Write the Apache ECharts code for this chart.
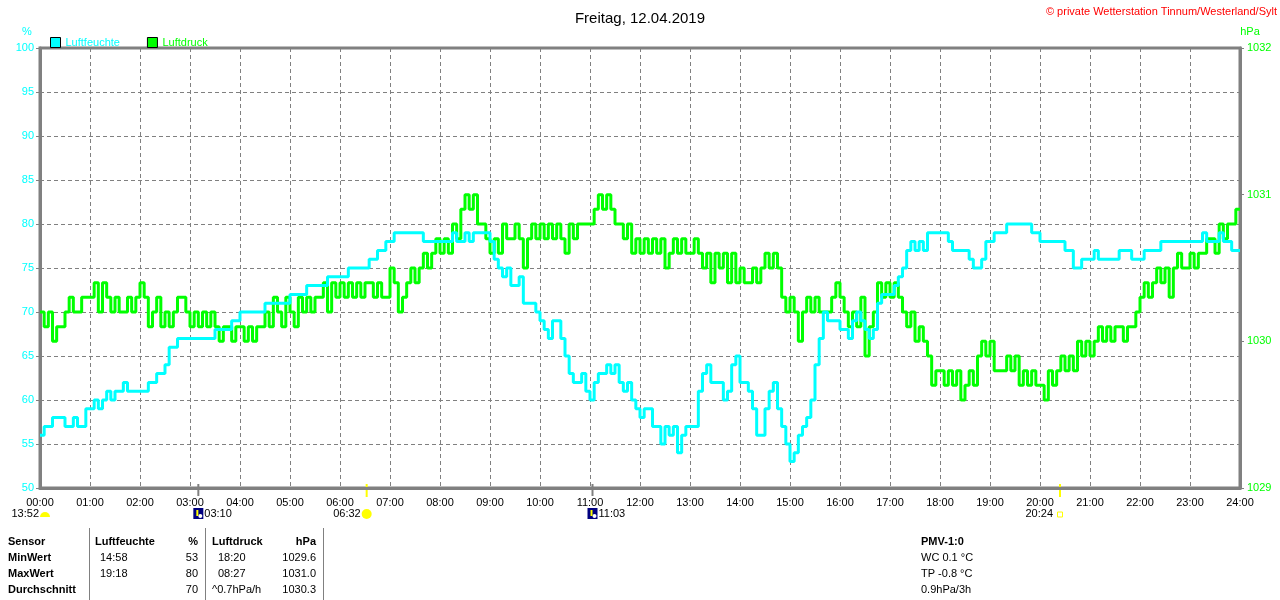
<!DOCTYPE html>
<html>
<head>
<meta charset="utf-8">
<title>Freitag, 12.04.2019</title>
<script src="https://cdn.jsdelivr.net/npm/echarts@6/dist/echarts.min.js"></script>
<style>
  html, body {margin: 0; padding: 0; background: #fff;}
  #main {width: 1280px; height: 600px;}
</style>
</head>
<body>
<div id="main"></div>
<script>
// Messwerte alle 5 Minuten, 00:00 .. 24:00
var sampleStep = 5;
var hourLabels = ['00:00','01:00','02:00','03:00','04:00','05:00','06:00','07:00','08:00','09:00','10:00','11:00','12:00',
  '13:00','14:00','15:00','16:00','17:00','18:00','19:00','20:00','21:00','22:00','23:00','24:00'];

var humidity = [
  56,57,57,58,58,58,57,57,58,57,57,59,
  59,60,59,60,61,60,61,61,62,61,61,61,
  61,61,62,62,63,63,64,66,66,67,67,67,
  67,67,67,67,67,67,68,68,68,68,69,69,
  70,70,70,70,70,70,71,71,71,71,71,71,
  72,72,72,72,73,73,73,73,73,74,74,74,
  74,74,75,75,75,75,75,76,76,77,77,78,
  78,79,79,79,79,79,79,79,78,78,78,78,
  78,78,78,79,78,78,79,78,79,79,79,79,
  78,76,75,74,75,73,73,74,71,71,71,70,
  69,68,67,69,69,67,65,63,62,62,63,61,
  60,62,63,63,64,63,64,62,61,62,60,59,
  58,59,59,57,57,55,57,56,57,54,56,57,
  57,57,61,63,64,62,62,62,60,61,64,65,
  62,62,61,59,56,56,59,61,62,59,57,55,
  53,54,56,57,58,60,64,67,70,69,69,69,
  68,68,67,69,70,69,68,67,68,71,72,72,
  72,73,74,75,77,78,77,78,77,79,79,79,
  79,79,78,77,77,77,77,76,75,75,76,78,
  78,79,79,79,80,80,80,80,80,80,79,79,
  78,78,78,78,78,78,77,77,75,75,76,76,
  76,77,76,76,76,76,76,77,77,77,76,76,
  76,77,77,77,77,78,78,78,78,78,78,78,
  78,78,78,79,78,78,78,79,78,78,77,77,
  77
];

var pressure = [
  1030.2,1030.1,1030.2,1030.0,1030.1,1030.1,1030.2,1030.3,1030.2,1030.2,1030.3,1030.3,
  1030.3,1030.4,1030.2,1030.4,1030.3,1030.2,1030.3,1030.2,1030.2,1030.3,1030.2,1030.3,
  1030.4,1030.3,1030.1,1030.2,1030.3,1030.1,1030.2,1030.1,1030.2,1030.3,1030.3,1030.2,
  1030.1,1030.2,1030.1,1030.2,1030.1,1030.2,1030.1,1030.0,1030.1,1030.1,1030.0,1030.1,
  1030.1,1030.0,1030.1,1030.0,1030.1,1030.1,1030.2,1030.1,1030.3,1030.2,1030.1,1030.3,
  1030.2,1030.1,1030.3,1030.2,1030.3,1030.2,1030.3,1030.3,1030.4,1030.2,1030.4,1030.3,
  1030.4,1030.3,1030.4,1030.3,1030.4,1030.3,1030.4,1030.4,1030.3,1030.4,1030.3,1030.3,
  1030.5,1030.4,1030.2,1030.3,1030.4,1030.5,1030.4,1030.5,1030.6,1030.5,1030.6,1030.7,
  1030.6,1030.7,1030.6,1030.8,1030.7,1030.9,1031.0,1030.9,1031.0,1030.8,1030.8,1030.7,
  1030.6,1030.7,1030.6,1030.8,1030.7,1030.7,1030.8,1030.7,1030.5,1030.7,1030.8,1030.7,
  1030.8,1030.7,1030.8,1030.7,1030.8,1030.7,1030.6,1030.8,1030.7,1030.8,1030.8,1030.8,
  1030.8,1030.9,1031.0,1030.9,1031.0,1030.9,1030.8,1030.8,1030.7,1030.8,1030.6,1030.7,
  1030.6,1030.7,1030.6,1030.7,1030.6,1030.7,1030.5,1030.6,1030.7,1030.6,1030.7,1030.6,
  1030.6,1030.7,1030.6,1030.5,1030.6,1030.4,1030.6,1030.5,1030.6,1030.4,1030.6,1030.4,
  1030.5,1030.4,1030.4,1030.5,1030.4,1030.5,1030.6,1030.5,1030.6,1030.5,1030.3,1030.2,
  1030.3,1030.2,1030.0,1030.2,1030.3,1030.2,1030.3,1030.2,1030.2,1030.2,1030.3,1030.4,
  1030.3,1030.2,1030.1,1030.2,1030.1,1030.3,1029.9,1030.1,1030.2,1030.4,1030.3,1030.4,
  1030.3,1030.4,1030.3,1030.2,1030.1,1030.2,1030.0,1030.1,1030.0,1029.9,1029.7,1029.8,
  1029.8,1029.7,1029.8,1029.7,1029.8,1029.6,1029.7,1029.8,1029.7,1029.9,1030.0,1029.9,
  1030.0,1029.8,1029.8,1029.8,1029.9,1029.8,1029.9,1029.7,1029.8,1029.7,1029.8,1029.7,
  1029.7,1029.6,1029.8,1029.7,1029.8,1029.9,1029.8,1029.9,1029.8,1030.0,1029.9,1030.0,
  1029.9,1030.0,1030.1,1030.0,1030.1,1030.0,1030.1,1030.1,1030.0,1030.1,1030.1,1030.2,
  1030.3,1030.4,1030.3,1030.4,1030.5,1030.4,1030.5,1030.3,1030.5,1030.6,1030.5,1030.5,
  1030.6,1030.5,1030.6,1030.6,1030.7,1030.7,1030.6,1030.8,1030.7,1030.8,1030.8,1030.9,
  1030.9
];

// Mond / Sonne unter der Zeitachse
var eventLabels = ['13:52', '03:10', '06:32', '11:03', '20:24'];
var eventMinutes = [0, 190, 392, 663, 1224];
var eventKinds = ['half', 'moon', 'sun', 'moon', 'set'];

// Tabelle unten
var tableHeader = ['Sensor', 'Luftfeuchte', '%', 'Luftdruck', 'hPa'];
var rowNames = ['MinWert', 'MaxWert', 'Durchschnitt'];
var humTimes = ['14:58', '19:18', ''];
var humValues = ['53', '80', '70'];
var pressTimes = ['18:20', '08:27', '^0.7hPa/h'];
var pressValues = ['1029.6', '1031.0', '1030.3'];
var pmvLines = ['PMV-1:0', 'WC 0.1 °C', 'TP -0.8 °C', '0.9hPa/3h'];

var CYAN = '#00ffff', GREEN = '#00ff00', GRAY = '#808080';
var FONT = '"Liberation Sans", Arial, sans-serif';

function toPairs(values){
  var out = [];
  for (var i = 0; i < values.length; i++)
    out.push([i * sampleStep, values[i]]);
  return out;
}

function txt(x, y, text, opts){
  opts = opts || {};
  return {
    type: 'text', x: x, y: y, silent: true,
    style: {
      text: text,
      fill: opts.fill || '#000',
      font: (opts.bold ? 'bold ' : '') + (opts.size || 11) + 'px ' + FONT,
      textAlign: opts.align || 'left',
      textVerticalAlign: 'middle'
    }
  };
}

var myChart = echarts.init(document.getElementById('main'));
var option = {
  animation: false,
  backgroundColor: '#fff',
  title: {
    text: 'Freitag, 12.04.2019',
    left: 'center',
    top: 6,
    textStyle: {fontFamily: FONT, fontSize: 15, fontWeight: 'normal', color: '#000'}
  },
  legend: {
    left: 45,
    top: 32,
    icon: 'rect',
    itemWidth: 10,
    itemHeight: 10,
    itemGap: 27,
    itemStyle: {borderColor: '#000', borderWidth: 1},
    textStyle: {fontFamily: FONT, fontSize: 11},
    data: [
      {name: 'Luftfeuchte', textStyle: {color: CYAN}},
      {name: 'Luftdruck', textStyle: {color: GREEN}}
    ]
  },
  grid: {
    left: 40, right: 40, top: 48, bottom: 112,
    show: true, borderColor: GRAY, borderWidth: 3
  },
  xAxis: {
    type: 'value',
    min: 0, max: 1440, interval: 60,
    axisLine: {lineStyle: {color: GRAY, width: 3}},
    axisTick: {show: false},
    axisLabel: {
      margin: 9, color: '#000', fontFamily: FONT, fontSize: 11,
      formatter: function(v){ return hourLabels[Math.round(v / 60)]; }
    },
    splitLine: {lineStyle: {color: GRAY, type: [4, 3], width: 1}}
  },
  yAxis: [
    {
      type: 'value',
      min: 50, max: 100, interval: 5,
      axisLine: {show: true, lineStyle: {color: GRAY, width: 3}},
      axisTick: {show: true, length: 4, lineStyle: {color: GRAY}},
      axisLabel: {margin: 6, color: CYAN, fontFamily: FONT, fontSize: 11},
      splitLine: {lineStyle: {color: GRAY, type: [4, 3], width: 1}}
    },
    {
      type: 'value',
      min: 1029, max: 1032, interval: 1,
      axisLine: {show: true, lineStyle: {color: GRAY, width: 3}},
      axisTick: {show: true, length: 4, lineStyle: {color: GRAY}},
      axisLabel: {
        margin: 7, color: GREEN, fontFamily: FONT, fontSize: 11,
        formatter: function(v){ return String(v); }
      },
      splitLine: {show: false}
    }
  ],
  series: [
    {
      name: 'Luftfeuchte',
      type: 'line',
      step: 'end',
      yAxisIndex: 0,
      showSymbol: false,
      z: 3,
      color: CYAN,
      lineStyle: {color: CYAN, width: 3},
      data: toPairs(humidity)
    },
    {
      name: 'Luftdruck',
      type: 'line',
      step: 'end',
      yAxisIndex: 1,
      showSymbol: false,
      z: 2,
      color: GREEN,
      lineStyle: {color: GREEN, width: 3},
      data: toPairs(pressure)
    }
  ]
};
myChart.setOption(option);

function buildGraphics(){
  var g = [];
  g.push(txt(1277, 12, '© private Wetterstation Tinnum/Westerland/Sylt', {fill: '#ff0000', align: 'right'}));
  g.push(txt(27, 32, '%', {fill: CYAN, align: 'center'}));
  g.push(txt(1250, 32, 'hPa', {fill: GREEN, align: 'center'}));

  var axisY = myChart.convertToPixel({yAxisIndex: 0}, 50);
  for (var i = 0; i < eventLabels.length; i++){
    var ex = myChart.convertToPixel({xAxisIndex: 0}, eventMinutes[i]);
    var kind = eventKinds[i];
    var ty = axisY + 26;
    if (kind === 'half'){
      g.push({type: 'sector', silent: true,
        shape: {cx: ex + 5, cy: ty + 3, r0: 0, r: 5, startAngle: Math.PI, endAngle: Math.PI * 2},
        style: {fill: '#ffff00'}});
      g.push(txt(ex - 1, ty, eventLabels[i], {align: 'right'}));
    } else if (kind === 'moon'){
      g.push({type: 'line', silent: true, shape: {x1: ex, y1: axisY - 4, x2: ex, y2: axisY + 8},
        style: {stroke: GRAY, lineWidth: 2}});
      g.push({type: 'rect', silent: true, shape: {x: ex - 5, y: ty - 6, width: 10, height: 11},
        style: {fill: '#000080'}});
      g.push({type: 'circle', silent: true, shape: {cx: ex + 2, cy: ty + 2, r: 2}, style: {fill: '#ffffff'}});
      g.push({type: 'rect', silent: true, shape: {x: ex - 2, y: ty - 4, width: 2, height: 6},
        style: {fill: '#ffff00'}});
      g.push(txt(ex + 6, ty, eventLabels[i]));
    } else if (kind === 'sun'){
      g.push({type: 'line', silent: true, shape: {x1: ex, y1: axisY - 4, x2: ex, y2: axisY + 9},
        style: {stroke: '#ffff00', lineWidth: 2}});
      g.push({type: 'circle', silent: true, shape: {cx: ex, cy: ty, r: 5},
        style: {fill: '#ffff00'}});
      g.push(txt(ex - 6, ty, eventLabels[i], {align: 'right'}));
    } else {
      g.push({type: 'line', silent: true, shape: {x1: ex, y1: axisY - 4, x2: ex, y2: axisY + 9},
        style: {stroke: '#ffff00', lineWidth: 2}});
      g.push({type: 'rect', silent: true, shape: {x: ex - 2.5, y: ty - 2, width: 5, height: 5},
        style: {fill: 'none', stroke: '#ffff00', lineWidth: 1}});
      g.push(txt(ex - 7, ty, eventLabels[i], {align: 'right'}));
    }
  }

  // Tabelle
  var sepX = [89, 205, 323];
  for (var s = 0; s < sepX.length; s++){
    g.push({type: 'line', silent: true, shape: {x1: sepX[s] + 0.5, y1: 528, x2: sepX[s] + 0.5, y2: 600},
      style: {stroke: GRAY, lineWidth: 1}});
  }
  var rowY = [542, 558, 574, 590];
  g.push(txt(8, rowY[0], tableHeader[0], {bold: true}));
  g.push(txt(95, rowY[0], tableHeader[1], {bold: true}));
  g.push(txt(198, rowY[0], tableHeader[2], {bold: true, align: 'right'}));
  g.push(txt(212, rowY[0], tableHeader[3], {bold: true}));
  g.push(txt(316, rowY[0], tableHeader[4], {bold: true, align: 'right'}));
  for (var r = 0; r < rowNames.length; r++){
    var y = rowY[r + 1];
    g.push(txt(8, y, rowNames[r], {bold: true}));
    g.push(txt(100, y, humTimes[r]));
    g.push(txt(198, y, humValues[r], {align: 'right'}));
    g.push(txt(pressTimes[r].charAt(0) === '^' ? 212 : 218, y, pressTimes[r]));
    g.push(txt(316, y, pressValues[r], {align: 'right'}));
  }
  for (var p = 0; p < pmvLines.length; p++){
    g.push(txt(921, rowY[p], pmvLines[p], {bold: p === 0}));
  }
  return g;
}

myChart.setOption({graphic: buildGraphics()});
</script>
</body>
</html>
